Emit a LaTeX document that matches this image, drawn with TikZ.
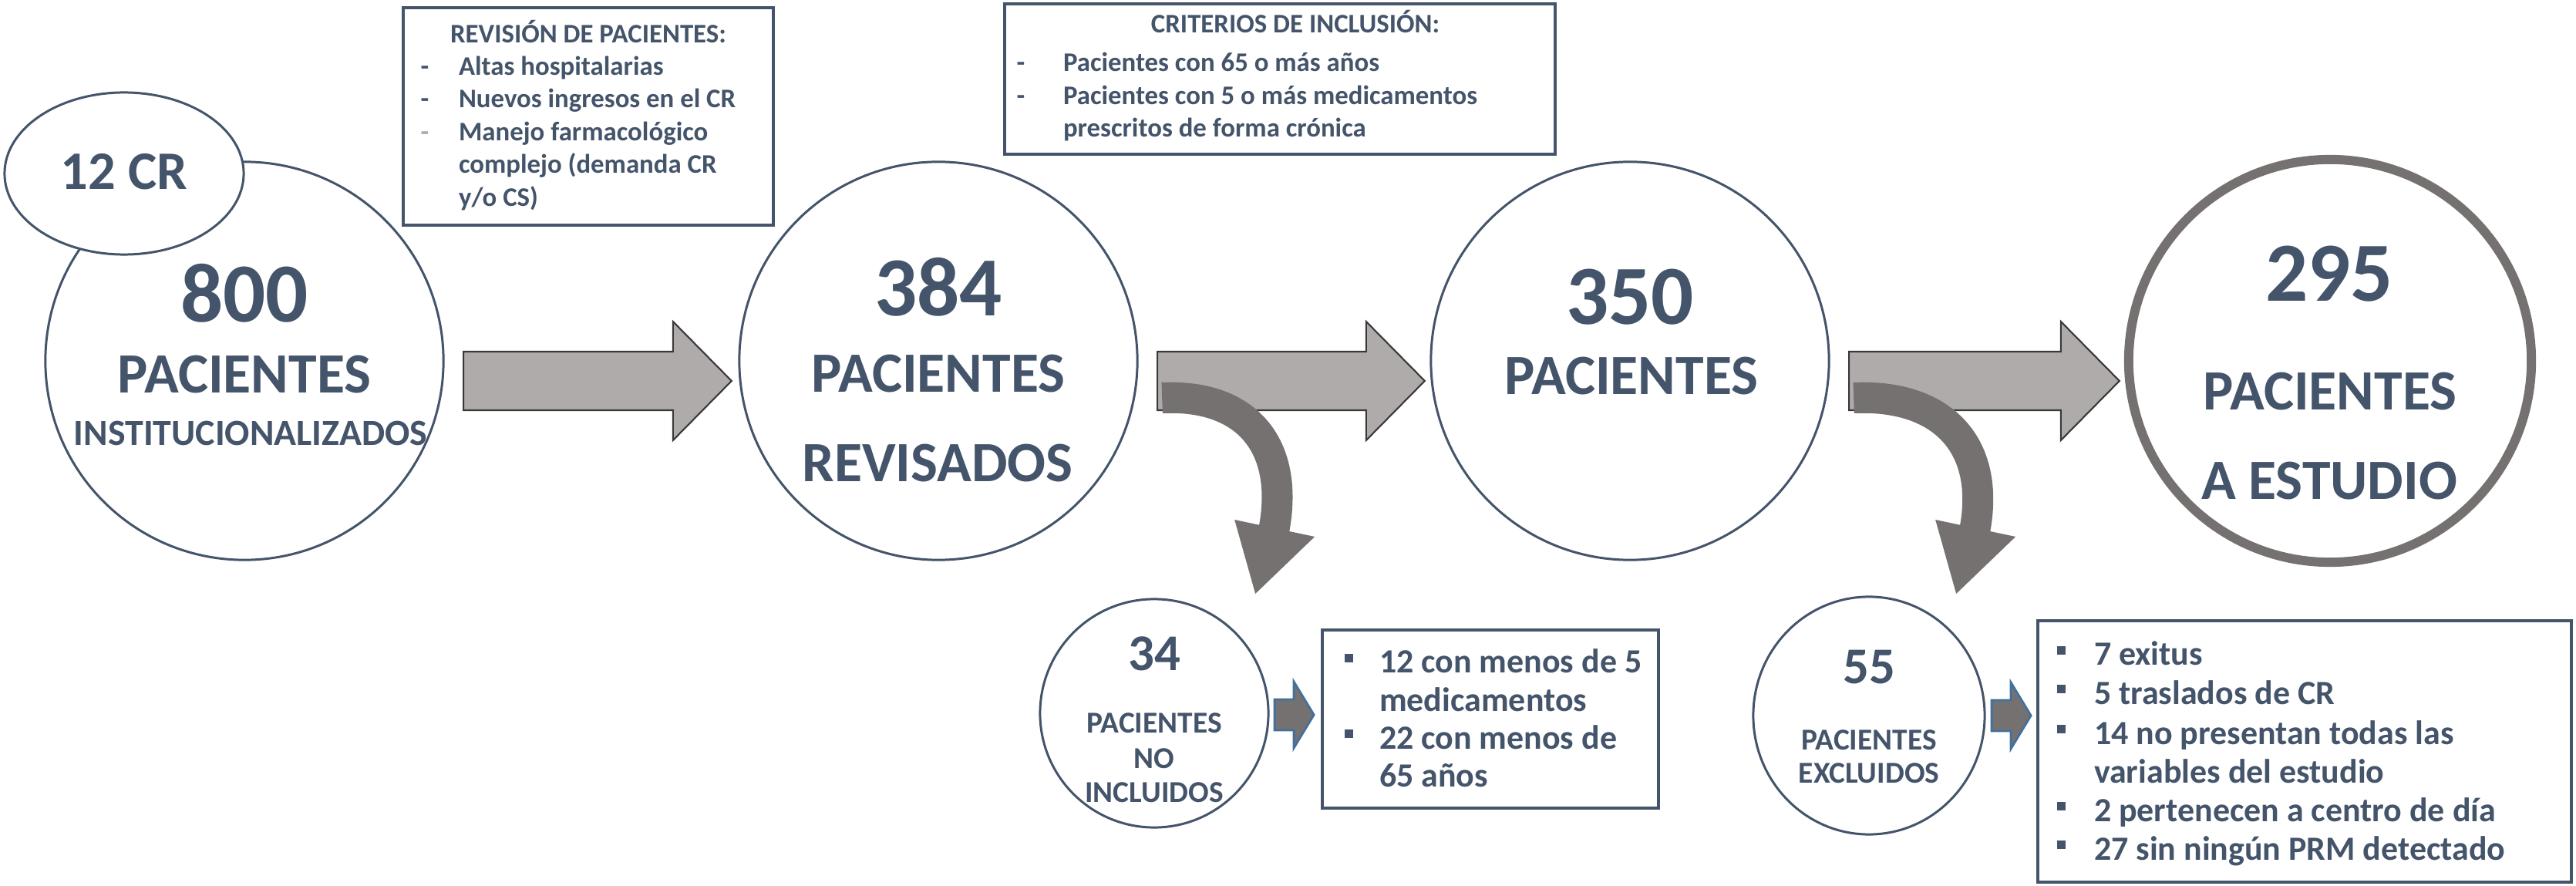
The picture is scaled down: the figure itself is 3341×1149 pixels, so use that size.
\documentclass[tikz,border=0pt]{standalone}
\usepackage{fontspec}
\setmainfont{Carlito}
\usetikzlibrary{shapes.geometric,calc}
\definecolor{txt}{HTML}{44546A}
\definecolor{lgray}{HTML}{AFABAB}
\definecolor{dgray}{HTML}{767171}
\definecolor{outl}{HTML}{3B3838}
\definecolor{blueo}{HTML}{41719C}
\definecolor{fdash}{HTML}{A5ACB8}
\newcommand{\barrowpath}[2]{%
  \filldraw[barrow] ($(#1)+(0,-38)$) -- ($(#2)+(-76,-38)$) -- ($(#2)+(-76,-77)$) -- (#2)
    -- ($(#2)+(-76,77)$) -- ($(#2)+(-76,38)$) -- ($(#1)+(0,38)$) -- cycle;}
\newcommand{\curvearrow}[2]{%
  \draw[curv] ($(#1)+(6,22)$) .. controls ($(#1)+({112+#2/2},17)$) and ($(#1)+({164+#2},84)$) .. ($(#1)+({143+#2},194)$);
  \fill[dgray] ($(#1)+({92+#2},180)$) -- ($(#1)+({196+#2},202)$) -- ($(#1)+({119+#2},276)$) -- cycle;}
\newcommand{\smallarrow}[1]{%
  \filldraw[sarrow] ($(#1)+(0,-20)$) -- ($(#1)+(25,-20)$) -- ($(#1)+(25,-43)$) -- ($(#1)+(51,0)$)
    -- ($(#1)+(25,43)$) -- ($(#1)+(25,20)$) -- ($(#1)+(0,20)$) -- cycle;}
\newcommand{\bulsq}[2]{\fill[txt] (#1-5.5,#2-25) rectangle (#1+5.5,#2-14);}
\begin{document}
\begin{tikzpicture}[x=0.01cm,y=-0.01cm,
  every node/.style={inner sep=0pt, outer sep=0pt, text=txt},
  circ/.style={ellipse, draw=txt, line width=0.85pt},
  tbox/.style={rectangle, draw=txt, line width=1.1pt},
  barrow/.style={fill=lgray, draw=outl, line width=0.6pt, line join=miter},
  curv/.style={draw=dgray, line width=0.40cm},
  sarrow/.style={fill=dgray, draw=blueo, line width=0.8pt, line join=miter},
  bignum/.style={font=\fontsize{31}{31}\selectfont\bfseries},
  bigword/.style={font=\fontsize{21}{21}\selectfont\bfseries},
  instw/.style={font=\fontsize{13.6}{14}\selectfont\bfseries},
  crw/.style={font=\fontsize{20}{20}\selectfont\bfseries},
  smnum/.style={font=\fontsize{19}{19}\selectfont\bfseries},
  smword/.style={font=\fontsize{11.2}{12}\selectfont\bfseries},
  hdr/.style={font=\fontsize{9.9}{10}\selectfont\bfseries, anchor=base},
  btxt/.style={font=\fontsize{9.9}{10}\selectfont\bfseries, anchor=base west},
  dsh/.style={font=\fontsize{9.9}{10}\selectfont\bfseries, anchor=base},
  ltxt/.style={font=\fontsize{12.5}{13}\selectfont\bfseries, anchor=base west},
]
\useasboundingbox (0,0) rectangle (3341,1149);
\fill[white] (0,0) rectangle (3341,1149);

% main circles
\node[circ, minimum width=5.16cm, minimum height=5.16cm] (c800) at (317,468) {};
\node[circ, minimum width=5.16cm, minimum height=5.16cm] (c384) at (1217,468) {};
\node[circ, minimum width=5.16cm, minimum height=5.16cm] (c350) at (2114,468) {};
\node[ellipse, draw=dgray, line width=3.4pt, minimum width=5.22cm, minimum height=5.22cm] (c295) at (3022,468) {};
\node[circ, minimum width=2.96cm, minimum height=2.96cm] (c34) at (1497,925) {};
\node[circ, minimum width=3.00cm, minimum height=3.08cm] (c55) at (2424,928) {};

% block arrows
\coordinate (a1s) at ($(c800.east)+(26,26)$);
\coordinate (a1e) at ($(c384.west)+(-10,26)$);
\coordinate (a2s) at ($(c384.east)+(26,26)$);
\coordinate (a2e) at ($(c350.west)+(-8,26)$);
\coordinate (a3s) at ($(c350.east)+(26,26)$);
\coordinate (a3e) at ($(c295.west)+(-12,26)$);
\barrowpath{a1s}{a1e}
\barrowpath{a2s}{a2e}
\barrowpath{a3s}{a3e}

% curved arrows
\curvearrow{a2s}{8}
\curvearrow{a3s}{20}

% small arrows
\coordinate (s1) at ($(c34.east)+(8,2)$);
\coordinate (s2) at ($(c55.east)+(9,0)$);
\smallarrow{s1}
\smallarrow{s2}

% 12 CR bubble
\node[circ, fill=white, minimum width=3.10cm, minimum height=2.10cm] (c12) at (161,225) {};
\node[crw] (t12) at (161,223) {12 CR};

% circle texts
\node[bignum] (t800) at (317,380) {800};
\node[bigword] (t800b) at (317,486) {PACIENTES};
\node[instw] (t800c) at (325,562) {INSTITUCIONALIZADOS};

\node[bignum] (t384) at (1217,372) {384};
\node[bigword] (t384b) at (1217,485) {PACIENTES};
\node[bigword] (t384c) at (1216,601) {REVISADOS};

\node[bignum] (t350) at (2114,385) {350};
\node[bigword] (t350b) at (2116,488) {PACIENTES};

\node[bignum] (t295) at (3021,355) {295};
\node[bigword] (t295b) at (3022,508) {PACIENTES};
\node[bigword] (t295c) at (3021,624) {A ESTUDIO};

\node[smnum] (t34) at (1497,848) {34};
\node[smword] (t34b) at (1497,938) {PACIENTES};
\node[smword] (t34c) at (1497,984) {NO};
\node[smword] (t34d) at (1497,1028) {INCLUIDOS};

\node[smnum] (t55) at (2424,865) {55};
\node[smword] (t55b) at (2424,960) {PACIENTES};
\node[smword] (t55c) at (2424,1003) {EXCLUIDOS};

% box: revision
\node[tbox, minimum width=4.80cm, minimum height=2.82cm] (brev) at (763,151) {};
\node[hdr] (rh) at (763,56) {REVISIÓN DE PACIENTES:};
\node[dsh] (rd1) at (551,98) {-};
\node[dsh] (rd2) at (551,140) {-};
\node[dsh, text=fdash] (rd3) at (551,183) {-};
\node[btxt] (r1) at (595,98) {Altas hospitalarias};
\node[btxt] (r2) at (595,140) {Nuevos ingresos en el CR};
\node[btxt] (r3) at (595,183) {Manejo farmacológico};
\node[btxt] (r4) at (595,225) {complejo (demanda CR};
\node[btxt] (r5) at (595,268) {y/o CS)};

% box: criterios
\node[tbox, minimum width=7.14cm, minimum height=1.95cm] (bcri) at (1660,102.5) {};
\node[hdr] (ch) at (1680,43) {CRITERIOS DE INCLUSIÓN:};
\node[dsh] (cd1) at (1324,93) {-};
\node[dsh] (cd2) at (1324,136) {-};
\node[btxt] (c1) at (1379,93) {Pacientes con 65 o más años};
\node[btxt] (c2) at (1379,136) {Pacientes con 5 o más medicamentos};
\node[btxt] (c3) at (1379,178) {prescritos de forma crónica};

% box: no incluidos
\node[tbox, minimum width=4.36cm, minimum height=2.31cm] (b34) at (1933,932.5) {};
\bulsq{1749}{873}
\bulsq{1749}{971}
\node[ltxt] (n1) at (1789,873) {12 con menos de 5};
\node[ltxt] (n2) at (1789,922) {medicamentos};
\node[ltxt] (n3) at (1789,971) {22 con menos de};
\node[ltxt] (n4) at (1789,1020) {65 años};

% box: excluidos
\node[tbox, minimum width=6.92cm, minimum height=3.39cm] (b55) at (2989,974.5) {};
\bulsq{2673}{863}
\bulsq{2673}{913}
\bulsq{2673}{965}
\bulsq{2673}{1065}
\bulsq{2673}{1115}
\node[ltxt] (e1) at (2716,863) {7 exitus};
\node[ltxt] (e2) at (2716,913) {5 traslados de CR};
\node[ltxt] (e3) at (2716,965) {14 no presentan todas las};
\node[ltxt] (e4) at (2716,1015) {variables del estudio};
\node[ltxt] (e5) at (2716,1065) {2 pertenecen a centro de día};
\node[ltxt] (e6) at (2716,1115) {27 sin ningún PRM detectado};
\end{tikzpicture}
\end{document}
